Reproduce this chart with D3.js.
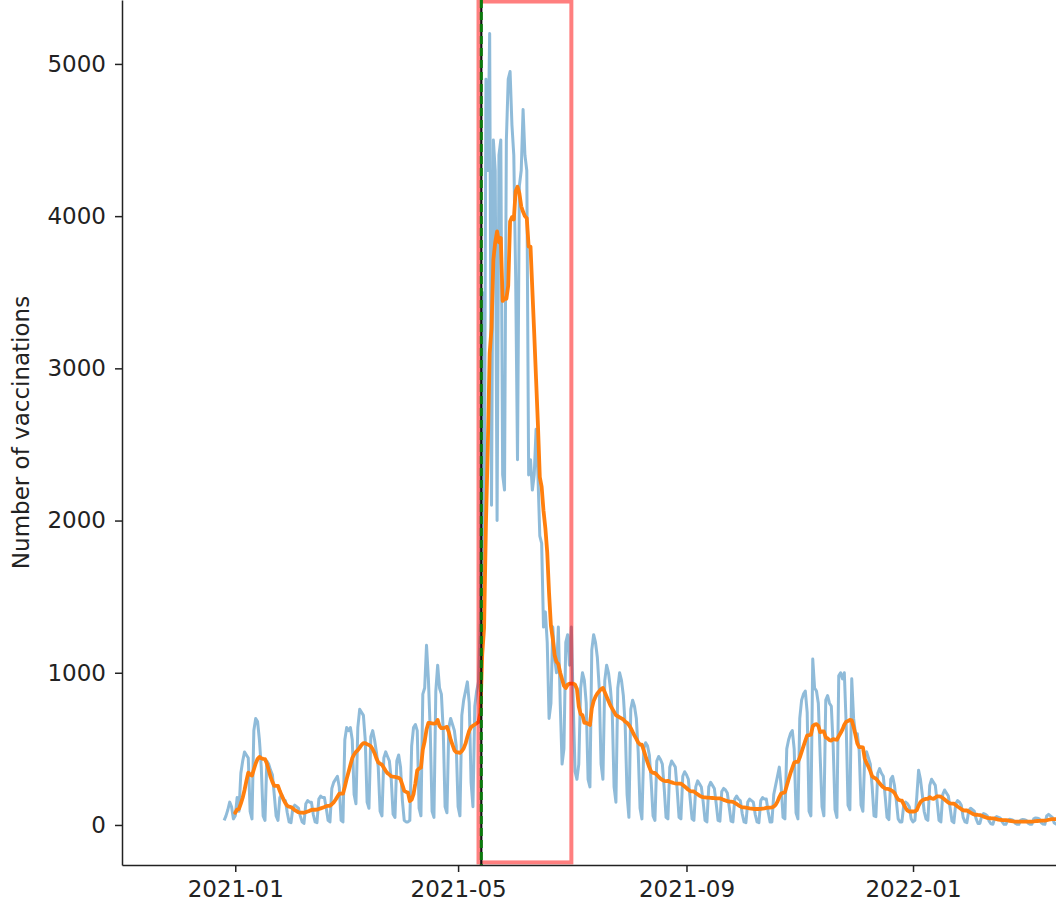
<!DOCTYPE html>
<html>
<head>
<meta charset="utf-8">
<script src="https://cdn.jsdelivr.net/npm/d3@7"></script>
<style>
  body { margin: 0; background: #fff; }
  text { font-family: "DejaVu Sans", sans-serif; }
</style>
</head>
<body>
<svg id="chart"></svg>
<script>
// Daily vaccinations, one value per day starting on startDate
var startDate = "2020-12-26";
var dailyVaccinations = [
  30, 60,
  100, 150, 120, 40, 60, 180, 90,
  340, 420, 480, 460, 440, 90, 40,
  620, 700, 680, 560, 380, 60, 30,
  420, 400, 360, 330, 200, 60, 30,
  180, 200, 170, 160, 80, 20, 15,
  110, 130, 120, 110, 60, 20, 10,
  140, 160, 150, 150, 70, 20, 15,
  170, 190, 180, 180, 110, 30, 20,
  240, 280, 300, 320, 250, 30, 20,
  560, 640, 620, 640, 560, 200, 140,
  640, 760, 740, 720, 560, 150, 110,
  580, 620, 560, 480, 380, 90, 60,
  440, 480, 450, 420, 300, 70, 50,
  420, 460, 380, 160, 30, 20, 20,
  30, 520, 640, 660, 620, 110, 60,
  860, 900, 1180, 960, 620, 90, 50,
  880, 1050, 900, 860, 620, 120, 80,
  640, 700, 660, 620, 520, 120, 60,
  720, 820, 880, 940, 800, 280, 120,
  780, 880, 940, 1350, 3500, 1500, 4900,
  4300, 5200, 2100, 4500, 4300, 2000, 4400,
  4500, 2300, 2200, 4500, 4900, 4950, 4600,
  4400, 3600, 2400, 4200, 4300, 4700, 4400,
  4300, 2300, 2400, 2200, 2300, 2600, 2300,
  1900, 1850, 1300, 1400, 1200, 700, 800,
  1300, 1100, 1000, 1300, 800, 400, 500,
  1200, 1250, 1050, 1300, 800, 350, 300,
  400, 900, 1000, 950, 800, 300, 250,
  1150, 1250, 1200, 1100, 900, 400, 300,
  950, 1050, 1000, 900, 750, 250, 150,
  900, 1000, 950, 850, 650, 200, 50,
  760, 820, 780, 700, 480, 110, 40,
  500, 540, 520, 460, 280, 60, 30,
  420, 450, 430, 400, 240, 50, 40,
  380, 420, 400, 380, 230, 50, 40,
  320, 350, 330, 300, 170, 40, 30,
  250, 290, 270, 250, 150, 30, 20,
  250, 280, 260, 240, 140, 30, 25,
  220, 240, 230, 210, 120, 25, 20,
  170, 190, 170, 160, 75, 20, 15,
  150, 170, 160, 150, 70, 20, 15,
  160, 180, 170, 170, 85, 20, 20,
  200, 260, 320, 380, 250, 50, 40,
  500, 560, 600, 620, 500, 80, 40,
  700, 820, 860, 880, 740, 90, 60,
  1090, 900, 880, 800, 450, 120, 60,
  820, 850, 800, 780, 520, 100, 50,
  980, 1000, 960, 1000, 660, 130, 100,
  960, 700, 600, 600, 490, 130, 90,
  450, 480, 440, 400, 250, 60, 55,
  340, 370, 340, 320, 190, 50, 35,
  300, 320, 260, 160, 40, 20, 20,
  130, 150, 140, 120, 40, 20, 30,
  180, 360, 300, 200, 90, 40, 30,
  260, 300, 280, 260, 150, 30, 20,
  200, 230, 210, 190, 110, 25, 15,
  140, 160, 150, 130, 50, 20, 15,
  95, 110, 100, 90, 40, 10, 10,
  60, 75, 70, 60, 25, 8, 5,
  45, 55, 50, 45, 20, 5, 4,
  30, 38, 35, 30, 12, 5, 4,
  32, 36, 34, 30, 12, 5, 5,
  40, 46, 44, 40, 16, 6, 4,
  60, 70, 60, 50, 15, 6, 5
];

var xTickLabels = ["2021-01", "2021-05", "2021-09", "2022-01"];
var yTickValues = [0, 1000, 2000, 3000, 4000, 5000];
var rollingWindow = 7;

// highlighted period and marker line
var windowStart = "2021-05-12", windowEnd = "2021-07-01";
var markerDate = "2021-05-13 12:00";
var windowLow = -246, windowHigh = 5410;

var width = 1056, height = 911;
var left = 122, bottom = 865;

var parseDay = d3.timeParse("%Y-%m-%d"),
    parseMonth = d3.timeParse("%Y-%m"),
    parseTime = d3.timeParse("%Y-%m-%d %H:%M");

var day0 = parseDay(startDate);
var series = dailyVaccinations.map(function(v, i) {
  return { date: d3.timeDay.offset(day0, i), value: v };
});

// trailing 7 day mean
var rolling = series.slice(rollingWindow - 1).map(function(d, i) {
  return {
    date: d.date,
    value: d3.mean(series.slice(i, i + rollingWindow), function(e) { return e.value; })
  };
});

var x = d3.scaleTime()
  .domain([parseDay("2020-11-01"), parseDay("2022-03-19")])
  .range([left, width]);

var y = d3.scaleLinear()
  .domain([-263, 5420])
  .range([bottom, 0]);

var svg = d3.select("#chart")
  .attr("width", width)
  .attr("height", height);

svg.append("defs").append("clipPath")
  .attr("id", "plot-clip")
  .append("rect")
  .attr("x", left).attr("y", 0)
  .attr("width", width - left).attr("height", bottom);

var plot = svg.append("g").attr("clip-path", "url(#plot-clip)");

var line = d3.line()
  .x(function(d) { return x(d.date); })
  .y(function(d) { return y(d.value); });

plot.append("path")
  .datum(series)
  .attr("d", line)
  .attr("fill", "none")
  .attr("stroke", "#1f77b4")
  .attr("stroke-opacity", 0.5)
  .attr("stroke-width", 3)
  .attr("stroke-linejoin", "round");

plot.append("path")
  .datum(rolling)
  .attr("d", line)
  .attr("fill", "none")
  .attr("stroke", "#ff7f0e")
  .attr("stroke-width", 3.8)
  .attr("stroke-linejoin", "round")
  .attr("stroke-linecap", "round");

// highlighted window
plot.append("rect")
  .attr("x", x(parseDay(windowStart)))
  .attr("y", y(windowHigh))
  .attr("width", x(parseDay(windowEnd)) - x(parseDay(windowStart)))
  .attr("height", y(windowLow) - y(windowHigh))
  .attr("fill", "none")
  .attr("stroke", "red")
  .attr("stroke-opacity", 0.5)
  .attr("stroke-width", 4);

// marker line
var mx = x(parseTime(markerDate));
plot.append("line")
  .attr("x1", mx).attr("x2", mx)
  .attr("y1", 0).attr("y2", bottom)
  .attr("stroke", "#111")
  .attr("stroke-width", 2.2);
plot.append("line")
  .attr("x1", mx).attr("x2", mx)
  .attr("y1", 0).attr("y2", bottom)
  .attr("stroke", "#0b7a0b")
  .attr("stroke-width", 3)
  .attr("stroke-dasharray", "8,4");

// axes
var xAxis = d3.axisBottom(x)
  .tickValues(xTickLabels.map(parseMonth))
  .tickFormat(d3.timeFormat("%Y-%m"))
  .tickSize(7)
  .tickSizeOuter(0)
  .tickPadding(9);

var yAxis = d3.axisLeft(y)
  .tickValues(yTickValues)
  .tickFormat(d3.format("d"))
  .tickSize(7)
  .tickSizeOuter(0)
  .tickPadding(9);

var gx = svg.append("g")
  .attr("transform", "translate(0," + bottom + ")")
  .call(xAxis);

var gy = svg.append("g")
  .attr("transform", "translate(" + left + ",0)")
  .call(yAxis);

[gx, gy].forEach(function(g) {
  g.select(".domain").attr("stroke", "#222").attr("stroke-width", 1.5);
  g.selectAll(".tick line").attr("stroke", "#222").attr("stroke-width", 1.5);
  g.selectAll(".tick text")
    .attr("fill", "#222")
    .style("font-size", "23px")
    .style("font-family", "DejaVu Sans, sans-serif");
});

svg.append("text")
  .attr("transform", "translate(29," + (bottom / 2) + ") rotate(-90)")
  .attr("text-anchor", "middle")
  .attr("fill", "#222")
  .style("font-size", "23px")
  .text("Number of vaccinations");
</script>
</body>
</html>
